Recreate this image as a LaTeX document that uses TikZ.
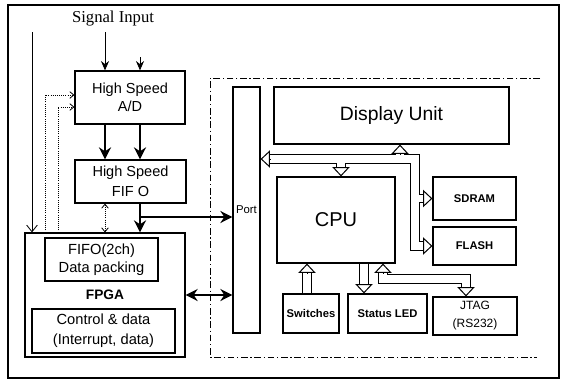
\documentclass[tikz,border=0pt]{standalone}
\usepackage{fontspec}
\setmainfont{Liberation Sans}
\newfontfamily\sigfont{Liberation Serif}
\usetikzlibrary{arrows.meta,calc}

\tikzset{
  box/.style={draw,line width=0.9pt,inner sep=0pt,align=center},
  sz/.style 2 args={minimum width=#1,minimum height=#2},
  txt/.style={font=\fontsize{10.9}{13.5}\selectfont},
  partlbl/.style={font=\fontsize{8.4}{10}\selectfont\bfseries},
  thk/.tip={Stealth[length=9pt,width=9pt]},
  thinarr/.style={line width=0.6pt,-{Stealth[length=7pt,width=6pt]}},
  thickarr/.style={line width=2pt,-thk},
  dots/.style={line width=0.6pt,densely dotted},
  busout/.style={line width=7pt,draw=black},
  busin/.style={line width=5.5pt,draw=white},
  bushead/.style={line width=0.75pt,-{Triangle[fill=white,length=7pt,width=13pt]}},
}

\begin{document}
\begin{tikzpicture}[x=0.75pt,y=-0.75pt,>={Straight Barb[length=3pt,width=5pt]}]
\useasboundingbox (0,0) rectangle (564,382);
\draw[line width=1.8pt] (8,5) rectangle (559,378);
\draw[line width=0.6pt,dash pattern=on 5pt off 2pt on 1pt off 2pt] (540,78) -| (210,357) -- (537,357);

% acquisition side
\node[font=\sigfont\fontsize{12.5}{14}\selectfont] (sig) at (113,19) {Signal Input};
\node[box,txt,sz={82.5pt}{39.75pt}] (ad) at (130,97.5) {High Speed\\A/D};
\node[box,font=\fontsize{10.9}{15}\selectfont,sz={83.25pt}{32.25pt}] (fifo) at (130.5,181.5) {High Speed\\FIF O};
\node[box,font=\fontsize{10.3}{12}\selectfont\bfseries,sz={120pt}{93pt}] (fpga) at (105,295) {FPGA};
\node[box,font=\fontsize{11}{13.5}\selectfont,sz={84.75pt}{32.25pt}] (pack) at (101.5,259.5) {FIFO(2ch)\\Data packing};
\node[box,font=\fontsize{11}{15}\selectfont,sz={107.25pt}{33pt}] (ctrl) at (103.5,331) {Control \& data\\(Interrupt, data)};

% processor side
\node[box,font=\fontsize{8.5}{10}\selectfont,sz={20.25pt}{184.5pt}] (port) at (246.5,210) {Port};
\node[box,font=\fontsize{14.5}{16}\selectfont,sz={176.25pt}{42.75pt}] (disp) at (391.5,115.5) {Display Unit};
\node[box,font=\fontsize{15}{17}\selectfont,sz={88.5pt}{64.5pt}] (cpu) at (336,220) {CPU};
\node[box,partlbl,sz={62.25pt}{32.25pt}] (sdram) at (474.5,198.5) {SDRAM};
\node[box,partlbl,sz={62.25pt}{28.5pt}] (flash) at (474.5,246) {FLASH};
\node[box,partlbl,sz={42pt}{29.25pt}] (sw) at (311,313.5) {Switches};
\node[box,partlbl,sz={59.25pt}{29.25pt}] (led) at (387.5,313.5) {Status LED};
\node[box,font=\fontsize{9}{13.5}\selectfont,sz={63pt}{28.5pt}] (jtag) at (475,316) {JTAG\\(RS232)};

% signal path
\coordinate (in1) at (105,32);
\coordinate (in2) at (140,57);
\draw[thinarr] (in1) -- (in1 |- ad.north);
\draw[thinarr] (in2) -- (in2 |- ad.north);
\draw[thickarr] (in1 |- ad.south) -- (in1 |- fifo.north);
\draw[thickarr] (in2 |- ad.south) -- (in2 |- fifo.north);
\draw[thickarr] (in2 |- fifo.south) -- (in2 |- fpga.north);
\coordinate (tap) at (140,217);
\draw[thickarr] (tap) -- (tap -| port.west);
\draw[dots,<->] (in1 |- fifo.south) -- (in1 |- fpga.north);
\draw[line width=2pt,thk-thk] (fpga.east) -- (fpga.east -| port.west);

% control lines
\coordinate (c1) at (32,32);
\coordinate (c2) at (45,95);
\coordinate (c3) at (58,107);
\draw[line width=0.6pt,-{Straight Barb[length=5pt,width=8pt]}] (c1) -- (c1 |- fpga.north);
\draw[dots,->] (c2 |- fpga.north) -- (c2) -- (c2 -| ad.west);
\draw[dots,->] (c3 |- fpga.north) -- (c3) -- (c3 -| ad.west);

% buses
\coordinate (bus) at (415,159);
\coordinate (dtap) at (400,159);
\coordinate (ctap) at (341,159);
\coordinate (sx) at (307,280);
\coordinate (lx) at (364,280);
\coordinate (jx) at (383,279);
\coordinate (jy) at (466,279);
\foreach \s in {busout,busin}{
  \draw[\s,shorten <=7pt,shorten >=7pt] (bus -| port.east) -- (bus) |- (flash.west);
  \draw[\s,shorten >=7pt] (bus |- sdram.west) -- (sdram.west);
  \draw[\s,shorten >=7pt] (dtap) -- (dtap |- disp.south);
  \draw[\s,shorten >=7pt] (ctap) -- (ctap |- cpu.north);
  \draw[\s,shorten >=7pt] (sx |- sw.north) -- (sx |- cpu.south);
  \draw[\s,shorten >=7pt] (lx |- cpu.south) -- (lx |- led.north);
  \draw[\s,shorten <=7pt,shorten >=7pt] (jx |- cpu.south) -- (jx) -- (jy) -- (jy |- jtag.north);
}
\draw[bushead] ($(bus -| port.east)!7pt!(bus)$) -- (bus -| port.east);
\draw[bushead] ($(flash.west)!7pt!(bus |- flash.west)$) -- (flash.west);
\draw[bushead] ($(sdram.west)!7pt!(bus |- sdram.west)$) -- (sdram.west);
\draw[bushead] ($(dtap |- disp.south)!7pt!(dtap)$) -- (dtap |- disp.south);
\draw[bushead] ($(ctap |- cpu.north)!7pt!(ctap)$) -- (ctap |- cpu.north);
\draw[bushead] ($(sx |- cpu.south)!7pt!(sx)$) -- (sx |- cpu.south);
\draw[bushead] ($(lx |- led.north)!7pt!(lx)$) -- (lx |- led.north);
\draw[bushead] ($(jx |- cpu.south)!7pt!(jx)$) -- (jx |- cpu.south);
\draw[bushead] ($(jy |- jtag.north)!7pt!(jy)$) -- (jy |- jtag.north);
\end{tikzpicture}
\end{document}
